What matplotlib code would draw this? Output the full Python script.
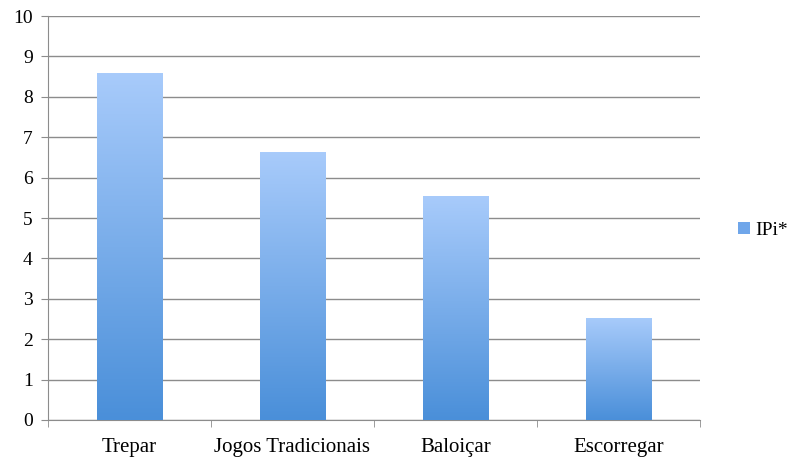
import numpy as np
import matplotlib.pyplot as plt
from matplotlib.colors import LinearSegmentedColormap
from matplotlib.patches import Patch

# --------------------------------------------------
# Data
# --------------------------------------------------

categories = ["Trepar", "Jogos Tradicionais", "Baloiçar", "Escorregar"]
ipi_values = [8.58, 6.63, 5.54, 2.53]
series_name = "IPi*"

plt.rcParams["font.family"] = ["Liberation Serif", "DejaVu Serif"]

grad = LinearSegmentedColormap.from_list("bar", ["#4a8fd9", "#a8cbfb"])

fig = plt.figure(figsize=(7.92, 4.58), dpi=100)
ax = fig.add_axes([0.0606, 0.083, 0.823, 0.882])

x = np.arange(len(categories))
bars = ax.bar(x, ipi_values, width=0.4, color="none", edgecolor="none", zorder=3)

# gradient fill for each bar
gradient = np.linspace(0, 1, 256).reshape(-1, 1)
for b in bars:
    x0, y0 = b.get_x(), b.get_y()
    w, h = b.get_width(), b.get_height()
    im = ax.imshow(gradient, cmap=grad, origin="lower", aspect="auto",
                   extent=[x0, x0 + w, y0, y0 + h], zorder=3)
    im.set_clip_path(b)

ax.set_xlim(-0.5, len(categories) - 0.5)
ax.set_ylim(0, 10)
ax.set_yticks(range(0, 11))
ax.yaxis.grid(True, color="#8c8c8c", linewidth=1.0, zorder=0)
ax.set_axisbelow(True)

ax.set_xticks(x)
ax.set_xticklabels(categories, fontsize=15)
ax.set_xticks(np.arange(-0.5, len(categories)), minor=True)
ax.tick_params(axis="x", which="major", length=0, pad=13)
ax.tick_params(axis="x", which="minor", length=5, color="#8c8c8c")
ax.tick_params(axis="y", length=5, color="#8c8c8c", labelsize=14, pad=6)

for side in ["top", "right"]:
    ax.spines[side].set_visible(False)
for side in ["left", "bottom"]:
    ax.spines[side].set_color("#8c8c8c")

handle = Patch(facecolor="#6fa6ea", edgecolor="none", label=series_name)
fig.legend(handles=[handle], loc="center left", bbox_to_anchor=(0.91, 0.497),
           frameon=False, fontsize=14, handlelength=0.6, handleheight=0.6,
           handletextpad=0.3)

fig.savefig("out.png", dpi=100)
plt.close(fig)
